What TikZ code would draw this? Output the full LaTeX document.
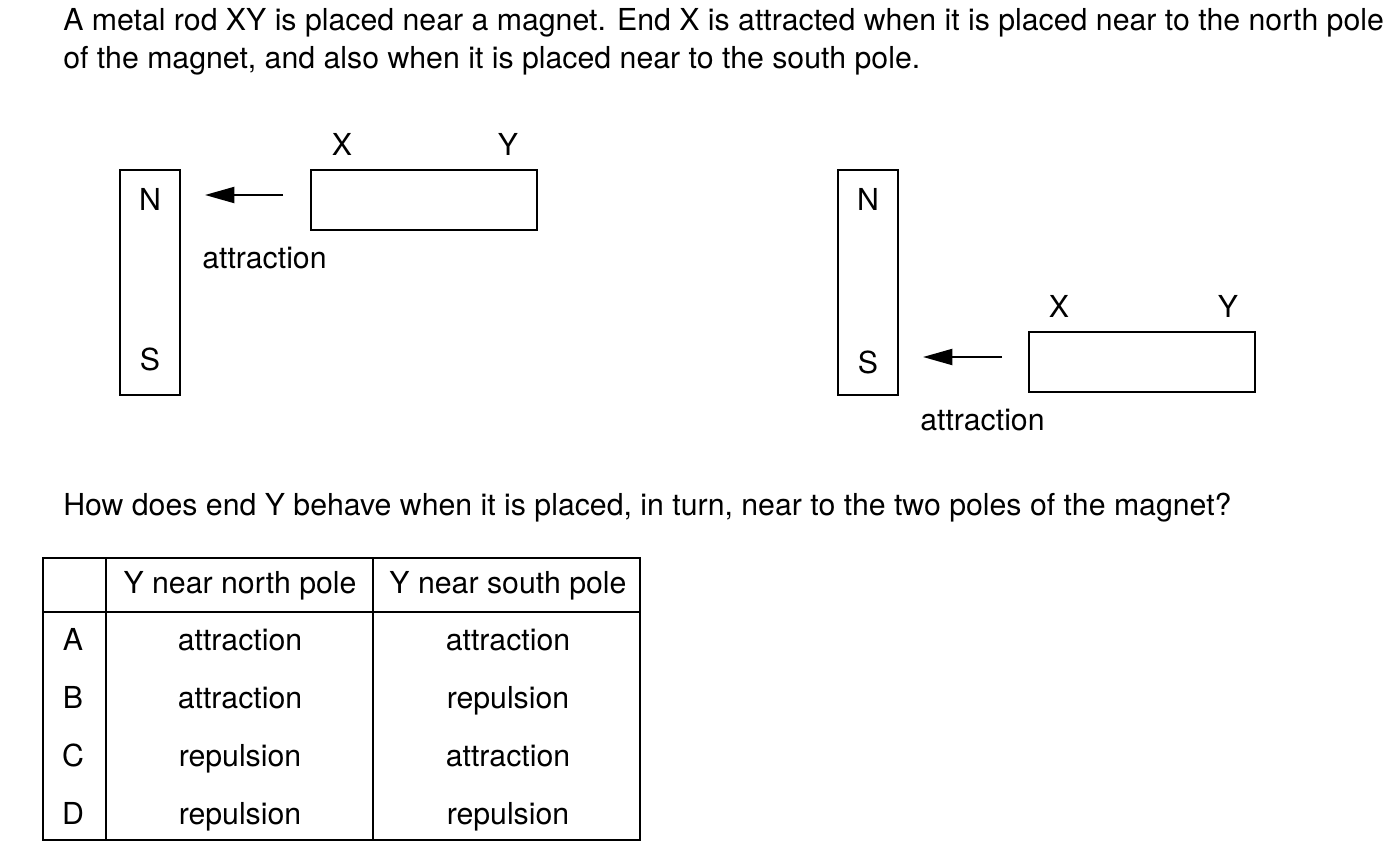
\documentclass[tikz,border=0pt]{standalone}
\usepackage{fontspec}
\setmainfont{TeX Gyre Heros}
\usetikzlibrary{arrows.meta}
\begin{document}
\begin{tikzpicture}[x=0.75pt,y=-0.75pt,
  txt/.style={inner sep=0pt,anchor=base west,font=\fontsize{22.7}{27}\selectfont},
  ctxt/.style={inner sep=0pt,anchor=base,font=\fontsize{22.7}{27}\selectfont},
  magnetbox/.style={draw,line width=2pt,minimum width=45pt,minimum height=168.75pt,inner sep=0pt},
  rodbox/.style={draw,line width=2pt,minimum width=169.5pt,minimum height=45pt,inner sep=0pt},
  force/.style={line width=1.5pt,-{Triangle[length=22pt,width=12pt]}},
  grid/.style={line width=1.1pt}]
\useasboundingbox (0,0) rectangle (1386,850);
% question text
\node[txt] (l1) at (63,30.5) {A metal rod XY is placed near a magnet. End X is attracted when it is placed near to the north pole};
\node[txt] (l2) at (63,68) {of the magnet, and also when it is placed near to the south pole.};
% left diagram
\node[magnetbox] (m1) at (150,282.5) {};
\node[ctxt] (n1) at (150,210) {N};
\node[ctxt] (s1) at (150,370) {S};
\node[rodbox] (r1) at (424,200) {};
\node[ctxt] (x1) at (342,155) {X};
\node[ctxt] (y1) at (508,155) {Y};
\coordinate (a1s) at (283,195);
\coordinate (a1e) at (205,195);
\draw[force] (a1s) -- (a1e);
\node[txt] (at1) at (202,268) {attraction};
% right diagram
\node[magnetbox] (m2) at (868,282.5) {};
\node[ctxt] (n2) at (868,210) {N};
\node[ctxt] (s2) at (868,373) {S};
\node[rodbox] (r2) at (1142,362) {};
\node[ctxt] (x2) at (1059,317) {X};
\node[ctxt] (y2) at (1228,317) {Y};
\coordinate (a2s) at (1002,357);
\coordinate (a2e) at (923,357);
\draw[force] (a2s) -- (a2e);
\node[txt] (at2) at (920,430) {attraction};
% question
\node[txt] (q) at (63,515) {How does end Y behave when it is placed, in turn, near to the two poles of the magnet?};
% table
\draw[grid] (43,558) rectangle (640,840);
\draw[grid] (43,612) -- (640,612);
\draw[grid] (106,558) -- (106,840);
\draw[grid] (373,558) -- (373,840);
\node[ctxt] (h1) at (240,593) {Y near north pole};
\node[ctxt] (h2) at (508,593) {Y near south pole};
\foreach \l/\a/\b [count=\i from 0] in {A/attraction/attraction,B/attraction/repulsion,C/repulsion/attraction,D/repulsion/repulsion}{
  \node[ctxt] (k\l) at (73,650.5+58*\i) {\l};
  \node[ctxt] (p\l) at (240,650.5+58*\i) {\a};
  \node[ctxt] (q\l) at (508,650.5+58*\i) {\b};
}
\end{tikzpicture}
\end{document}
